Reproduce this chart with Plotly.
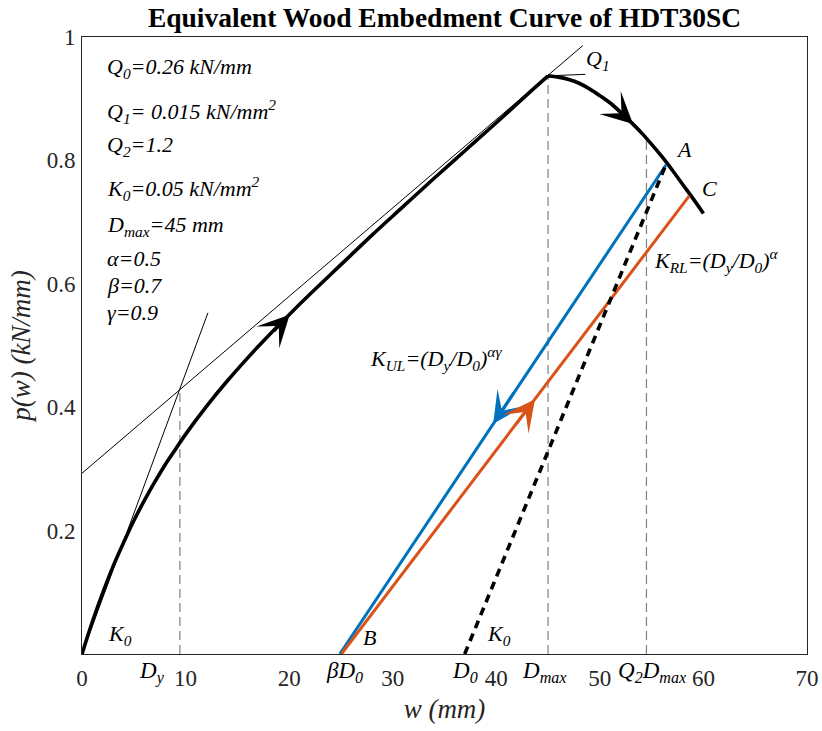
import plotly.graph_objects as go

# ---------------- data ----------------
asc_w = [0, 1, 2, 3, 4, 5, 6, 7, 8, 9, 10, 12, 14, 16, 18, 20, 22, 25, 28, 31, 34, 37, 40, 43, 45]
asc_p = [0, 0.052, 0.099, 0.142, 0.180, 0.216, 0.248, 0.278, 0.306, 0.331, 0.356, 0.401, 0.442,
         0.480, 0.516, 0.550, 0.583, 0.631, 0.679, 0.725, 0.771, 0.816, 0.861, 0.907, 0.937]
desc_w = [45, 46, 47, 48, 49, 50, 51, 52, 53, 54, 55, 56, 57, 58, 59, 60]
desc_p = [0.937, 0.935, 0.931, 0.925, 0.916, 0.905, 0.893, 0.878, 0.862, 0.845, 0.826,
          0.806, 0.784, 0.761, 0.738, 0.714]
unload_w = [56.4, 24.89]      # blue, A -> B
unload_p = [0.793, 0.0]
reload_w = [25.05, 58.65]     # orange, B -> C
reload_p = [0.0, 0.743]
k0_reload_w = [36.95, 56.3]   # black dashed, stiffness K0
k0_reload_p = [0.0, 0.79]
k0_tan_w = [0, 12.16]         # initial stiffness line
k0_tan_p = [0, 0.553]
q_line_w = [0, 48.35]         # Q0 + Q1 w asymptote
q_line_p = [0.293, 0.986]
q1_mark_w = [45.0, 48.6]
q1_mark_p = [0.937, 0.9395]
vline_w = [9.45, 45.0, 54.5]  # Dy, Dmax, Q2*Dmax
vline_top = [0.43, 0.937, 0.84]

x_ticks = [0, 10, 20, 30, 40, 50, 60, 70]
y_ticks = [0.2, 0.4, 0.6, 0.8, 1]
y_tick_text = ["0.2", "0.4", "0.6", "0.8", "1"]

BLUE = "#0072BD"
ORANGE = "#D95319"
AX = "#262626"
SERIF = "Liberation Serif, Times New Roman, Times, serif"

fig = go.Figure()

def line(x, y, color="black", width=1.0, dash=None, shape="linear"):
    fig.add_trace(go.Scatter(x=x, y=y, mode="lines", showlegend=False, hoverinfo="skip",
                             line=dict(color=color, width=width, dash=dash, shape=shape)))

# thin construction lines
line(k0_tan_w, k0_tan_p, width=1)
line(q_line_w, q_line_p, width=1)
line(q1_mark_w, q1_mark_p, width=1)
for xv, top in zip(vline_w, vline_top):
    line([xv, xv], [0, top], color="#808080", width=1.2, dash="9px,5px")

# main curves
line(asc_w, asc_p, width=3.6, shape="spline")
line(desc_w, desc_p, width=3.6, shape="spline")
line(unload_w, unload_p, color=BLUE, width=3)
line(reload_w, reload_p, color=ORANGE, width=3)
line(k0_reload_w, k0_reload_p, width=3.6, dash="8px,6px")

# arrows along the paths
arrows = [
    (20.05, 0.550, 18.4, 0.521, "black"),
    (53.2, 0.859, 51.6, 0.884, "black"),
    (39.7, 0.373, 41.8, 0.426, BLUE),
    (43.74, 0.413, 41.8, 0.370, ORANGE),
]
for x, y, ax, ay, c in arrows:
    fig.add_annotation(x=x, y=y, ax=ax, ay=ay, xref="x", yref="y", axref="x", ayref="y",
                       text="", showarrow=True, arrowhead=3, arrowsize=1.75, arrowwidth=3,
                       arrowcolor=c, standoff=0)

def txt(x, y, s, size=22, xanchor="center", yanchor="middle", italic=True):
    fig.add_annotation(x=x, y=y, xref="x", yref="y", text=s, showarrow=False,
                       xanchor=xanchor, yanchor=yanchor,
                       font=dict(family=SERIF, size=size, color="black",
                                 style="italic" if italic else "normal"))

# parameter block
params = [
    ("Q<sub>0</sub>=0.26 kN/mm", 0.949),
    ("Q<sub>1</sub>= 0.015 kN/mm<sup>2</sup>", 0.879),
    ("Q<sub>2</sub>=1.2", 0.823),
    ("K<sub>0</sub>=0.05 kN/mm<sup>2</sup>", 0.754),
    ("D<sub>max</sub>=45 mm", 0.693),
    ("α=0.5", 0.641),
    ("β=0.7", 0.598),
    ("γ=0.9", 0.554),
]
for s, yv in params:
    txt(2.2, yv, s, xanchor="left")

# labels inside the plot
txt(49.8, 0.963, "Q<sub>1</sub>")
txt(58.1, 0.818, "A")
txt(60.6, 0.755, "C")
txt(27.8, 0.026, "B")
txt(3.7, 0.03, "K<sub>0</sub>")
txt(40.3, 0.03, "K<sub>0</sub>")
txt(55.0, 0.638, "K<sub>RL</sub>=(D<sub>y</sub>/D<sub>0</sub>)<sup>α</sup>", xanchor="left")
txt(27.6, 0.479, "K<sub>UL</sub>=(D<sub>y</sub>/D<sub>0</sub>)<sup>αγ</sup>", xanchor="left")

# symbolic tick-like labels
sym_x = [(6.8, "D<sub>y</sub>"), (25.3, "βD<sub>0</sub>"), (36.95, "D<sub>0</sub>"),
         (44.7, "D<sub>max</sub>"), (55.1, "Q<sub>2</sub>D<sub>max</sub>")]
for xv, s in sym_x:
    fig.add_annotation(x=xv, y=0, xref="x", yref="y", yshift=-18, text=s, showarrow=False,
                       xanchor="center", yanchor="middle",
                       font=dict(family=SERIF, size=23, color="black", style="italic"))
fig.add_annotation(x=-2.45, y=0.285, xref="x", yref="y", text="Q<sub>0</sub>", showarrow=False,
                   xanchor="center", yanchor="middle",
                   font=dict(family=SERIF, size=25, color="black", style="italic"))
fig.add_annotation(x=-2.0, y=0.003, xref="x", yref="y", text="O", showarrow=False,
                   xanchor="center", yanchor="middle",
                   font=dict(family=SERIF, size=24, color="black", style="italic"))

fig.update_layout(
    width=822, height=731,
    margin=dict(l=82, r=15, t=37, b=77, autoexpand=False),
    paper_bgcolor="white", plot_bgcolor="white",
    title=dict(text="<b>Equivalent Wood Embedment Curve of HDT30SC</b>",
               x=0.5, xref="paper", y=1 - 17 / 731, yref="container", yanchor="middle",
               font=dict(family=SERIF, size=27.5, color="black")),
    xaxis=dict(range=[0, 70], tickvals=x_ticks, showgrid=False, zeroline=False,
               showline=True, linecolor=AX, linewidth=1, mirror=True, ticks="",
               ticklabelstandoff=3,
               tickfont=dict(family=SERIF, size=23, color=AX),
               title=dict(text="w (mm)", standoff=9,
                          font=dict(family=SERIF, size=27, color=AX, style="italic"))),
    yaxis=dict(range=[0, 1], tickvals=y_ticks, ticktext=y_tick_text, showgrid=False,
               zeroline=False, showline=True, linecolor=AX, linewidth=1, mirror=True,
               ticks="", ticklabelstandoff=1,
               tickfont=dict(family=SERIF, size=23, color=AX),
               title=dict(text="p(w) (kN/mm)", standoff=8,
                          font=dict(family=SERIF, size=27, color=AX, style="italic"))),
)

fig.write_html("out.html")
